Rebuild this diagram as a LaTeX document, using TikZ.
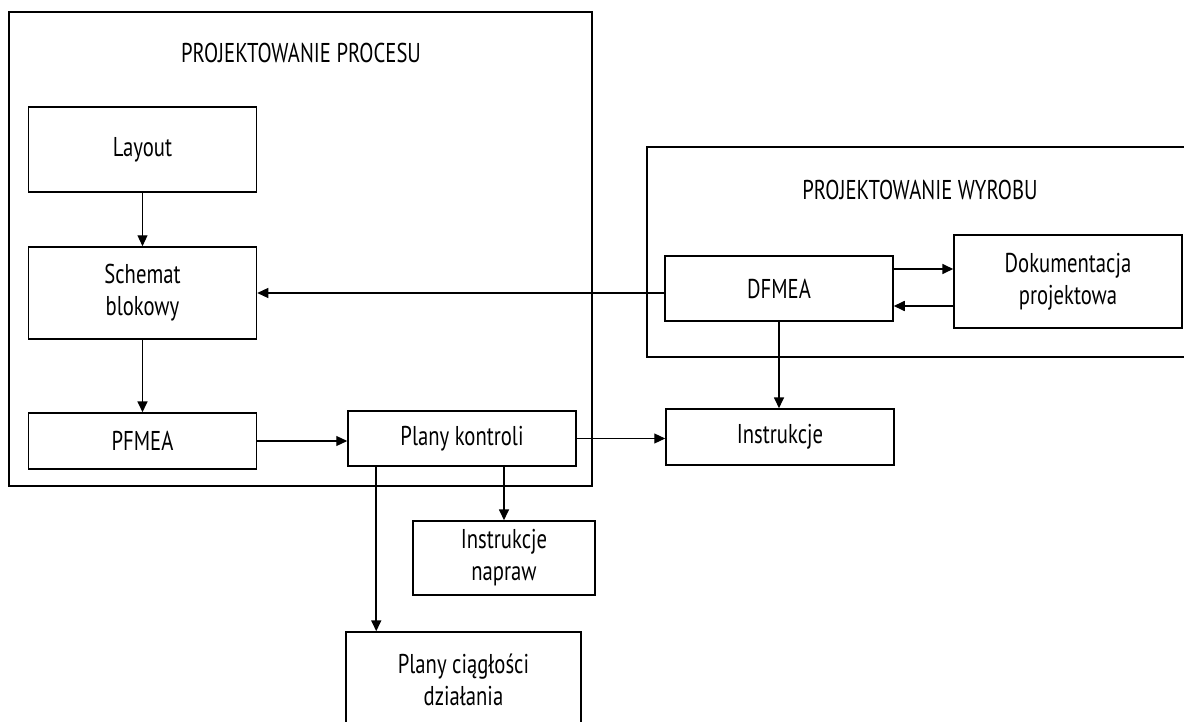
\documentclass[tikz,border=0pt]{standalone}
\usepackage{fontspec}
\setmainfont{PT Sans}[FakeStretch=0.76]
\usetikzlibrary{arrows.meta}

\begin{document}
\begin{tikzpicture}[
    x=0.5pt, y=-0.5pt, % one unit = one pixel of the page
    >={Triangle[length=5.5pt,width=5pt]}, % Set default arrow tip style
    every node/.style={font=\fontsize{13.6}{16}\selectfont},
    blok/.style={draw, line width=0.75pt, minimum width=114pt, inner sep=0pt, align=center},
    ramka/.style={line width=0.75pt},
    cienka/.style={->, line width=0.55pt},
    gruba/.style={->, line width=0.85pt}
]
    \useasboundingbox (0,0) rectangle (1184,722);

    % Frame: process design
    \draw[ramka] (9,12) rectangle (592,486);
    \node (proces) at (301,53) {PROJEKTOWANIE PROCESU};

    % Frame: product design (open on the right)
    \draw[ramka] (1190,147) -- (647,147) -- (647,357) -- (1190,357);
    \node (wyrob) at (920,190) {PROJEKTOWANIE WYROBU};

    % Boxes
    \node[blok, minimum height=42.5pt] (layout) at (142.5,149.5) {Layout};
    \node[blok, minimum height=46pt] (schemat) at (142.5,293) {Schemat\\blokowy};
    \node[blok, minimum height=28pt] (pfmea) at (142.5,441) {PFMEA};
    \node[blok, minimum height=27.5pt] (plany) at (462,438.5) {Plany kontroli};
    \node[blok, minimum height=28pt] (instrukcje) at (780,437) {Instrukcje};
    \node[blok, minimum width=91pt, minimum height=37pt] (napraw) at (504,558) {Instrukcje\\napraw};
    \node[blok, minimum width=117.5pt, minimum height=48pt] (ciaglosc) at (463.5,680) {Plany ciągłości\\działania};
    \node[blok, minimum height=32.5pt] (dfmea) at (779,288.5) {DFMEA};
    \node[blok, minimum height=46.5pt] (dokum) at (1068,281.5) {Dokumentacja\\projektowa};

    % Arrows inside the process frame
    \draw[cienka] (layout) -- (schemat);
    \draw[gruba] (schemat) -- (pfmea);
    \draw[cienka] (pfmea.east) -- (pfmea.east -| plany.west);

    % DFMEA to the other boxes
    \draw[cienka] (dfmea.west |- schemat.east) -- (schemat.east);
    \draw[gruba] (dfmea.south) -- (dfmea.south |- instrukcje.north);
    \draw[gruba] ([yshift=9.75pt]dfmea.east) coordinate (tam) -- (tam -| dokum.west);
    \draw[gruba] ([yshift=-12.25pt]dokum.west) coordinate (wstecz) -- (wstecz -| dfmea.east);

    % Arrows out of Plany kontroli
    \draw[cienka] (plany.east) -- (plany.east -| instrukcje.west);
    \draw[gruba] (plany.south -| napraw.north) -- (napraw.north);
    \draw[gruba] ([xshift=14.5pt]plany.south west) coordinate (dol) -- (dol |- ciaglosc.north);

\end{tikzpicture}
\end{document}
